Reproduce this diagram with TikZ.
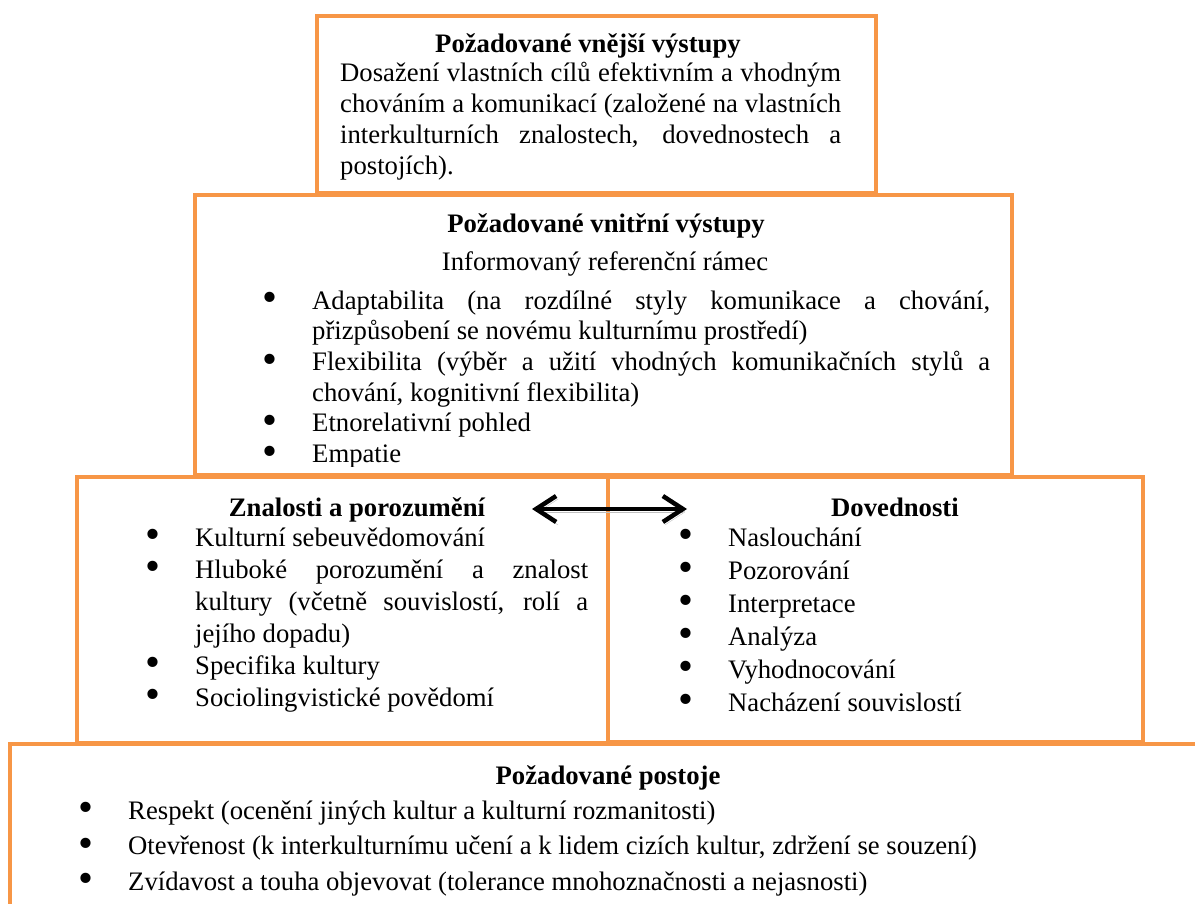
\documentclass[tikz,border=0pt]{standalone}
\usepackage{fontspec}
\usepackage{graphicx}
\setmainfont{Liberation Serif}
\usetikzlibrary{positioning,fit,arrows.meta}
\definecolor{oranzova}{HTML}{F79646}
\newcommand{\velikost}{\fontsize{26.7}{30.7}\selectfont}
\newcommand{\odrazka}{\raisebox{-0.1em}{\scalebox{1.6}{\textbullet}}}
\newcommand{\prvni}{\hangindent=50pt\hangafter=1
  \makebox[50pt][l]{\makebox[16pt]{\odrazka}}}
\newcommand{\polozka}{\par\noindent\prvni}
\tikzset{%
  blok/.style = {rectangle,draw=oranzova,line width=4pt,inner sep=0pt},
  titul/.style = {font=\velikost\bfseries,inner sep=0pt,anchor=base},
  telo/.style = {align=justify,inner sep=0pt,anchor=base west},
  obousmer/.style = {{Straight Barb[length=20pt,width=26pt]}-{Straight Barb[length=20pt,width=26pt]},
        line width=4.5pt,black}
}

\begin{document}
\begin{tikzpicture}[x=1pt,y=-1pt,font=\velikost]
  \clip (0,0) rectangle (1195,904);
  % bloky
  \node[blok, fit={(317,16) (876,193)}] (vnejsi) {};
  \node[blok, fit={(195,195) (1012,475)}] (vnitrni) {};
  \node[blok, fit={(77,477) (608,743)}] (znalosti) {};
  \node[blok, fit={(608,477) (1143,742)}] (dovednosti) {};
  \node[blok, fit={(10,744) (1240,950)}] (postoje) {};

  % vnejsi vystupy
  \node[titul] (vnejsiT) at (588,53) {Požadované vnější výstupy};
  \node[telo, text width=501pt] (vnejsiB) at (340,82)
    {Dosažení vlastních cílů efektivním a vhodným\linebreak
     chováním a komunikací (založené na vlastních\linebreak
     interkulturních znalostech, dovednostech a\linebreak
     postojích).};

  % vnitrni vystupy
  \node[titul] (vnitrniT) at (606,233) {Požadované vnitřní výstupy};
  \node[inner sep=0pt,anchor=base] (ramec) at (605,271) {Informovaný referenční rámec};
  \begin{scope}
    \clip (195,195) rectangle (1012,466);
    \node[telo, text width=728pt] (vnitrniB) at (262,309)
      {\prvni Adaptabilita (na rozdílné styly komunikace a chování,\linebreak
        přizpůsobení se novému kulturnímu prostředí)
      \polozka Flexibilita (výběr a užití vhodných komunikačních stylů a\linebreak
        chování, kognitivní flexibilita)
      \polozka Etnorelativní pohled
      \polozka Empatie};
  \end{scope}

  % znalosti
  \node[titul] (znalostiT) at (357,516) {Znalosti a porozumění};
  \node[telo, text width=443pt, font=\fontsize{26.7}{32}\selectfont] (znalostiB) at (145,546)
    {\prvni Kulturní sebeuvědomování
      \polozka Hluboké porozumění a znalost\linebreak
        kultury (včetně souvislostí, rolí a\linebreak
        jejího dopadu)
      \polozka Specifika kultury
      \polozka Sociolingvistické povědomí};

  % dovednosti
  \node[titul] (dovednostiT) at (895,516) {Dovednosti};
  \node[telo, text width=460pt, font=\fontsize{26.7}{33}\selectfont] (dovednostiB) at (678,546)
    {\prvni Naslouchání
      \polozka Pozorování
      \polozka Interpretace
      \polozka Analýza
      \polozka Vyhodnocování
      \polozka Nacházení souvislostí};

  % postoje
  \node[titul] (postojeT) at (608,784) {Požadované postoje};
  \node[telo, text width=1100pt, font=\fontsize{26.7}{35.5}\selectfont] (postojeB) at (78,819)
    {\prvni Respekt (ocenění jiných kultur a kulturní rozmanitosti)
      \polozka Otevřenost (k interkulturnímu učení a k lidem cizích kultur, zdržení se souzení)
      \polozka Zvídavost a touha objevovat (tolerance mnohoznačnosti a nejasnosti)};

  % sipka
  \coordinate (sipL) at (532,509);
  \coordinate (sipR) at (687,509);
  \draw[obousmer, preaction={draw=black!25,transform canvas={shift={(2pt,-3pt)}}}] (sipL) -- (sipR);
\end{tikzpicture}
\end{document}
